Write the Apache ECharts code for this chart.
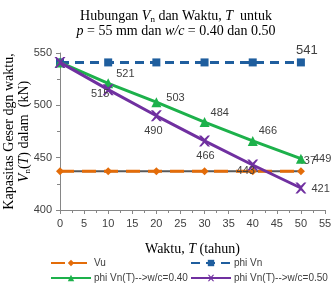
<!DOCTYPE html>
<html>
<head>
<meta charset="utf-8">
<script src="https://cdn.jsdelivr.net/npm/echarts@6/dist/echarts.min.js"></script>
<style>
  html, body { margin: 0; padding: 0; background: #fff; }
  #chart { width: 336px; height: 286px; }
</style>
</head>
<body>
<div id="chart"></div>
<script>
// data
var years = [0, 10, 20, 30, 40, 50];
var vu = [437, 437, 437, 437, 437, 437];
var phiVn = [541, 541, 541, 541, 541, 541];
var vnWc040 = [541, 521, 503, 484, 466, 449];
var vnWc050 = [541, 515, 490, 466, 443, 421];

var serif = 'Liberation Serif';
var sans = 'Liberation Sans';

function pairs (ys) {
  return years.map(function (x, i) { return [x, ys[i]]; });
}

// label placement per point, index -> [position, dx, dy]; null = no label
function withLabels (ys, place) {
  return years.map(function (x, i) {
    var p = place[i];
    var item = { value: [x, ys[i]] };
    if (p) {
      item.label = { show: true, position: p[0], offset: [p[1], p[2]] };
    }
    return item;
  });
}

var labelStyle = { fontFamily: sans, fontSize: 11, color: '#404040', distance: 3 };

var myChart = echarts.init(document.getElementById('chart'));
var option = {
  animation: false,
  graphic: [{
    type: 'text',
    x: 176,
    y: 9,
    style: {
      text: 'Hubungan {i|V}{sub|n} dan Waktu, {i|T}  untuk\n{i|p} = 55 mm dan {i|w/c} = 0.40 dan 0.50',
      font: '14px ' + serif,
      fill: '#000',
      align: 'center',
      lineHeight: 15,
      rich: {
        i: { fontStyle: 'italic', fontFamily: serif, fontSize: 14, lineHeight: 15 },
        sub: { fontFamily: serif, fontSize: 9, verticalAlign: 'bottom', lineHeight: 15 }
      }
    }
  }],
  grid: { left: 60, right: 11, top: 53, bottom: 76, containLabel: false, outerBoundsMode: 'none' },
  xAxis: {
    type: 'value',
    min: 0, max: 55, interval: 5,
    name: 'Waktu, {i|T} (tahun)',
    nameLocation: 'middle',
    nameGap: 32,
    nameMoveOverlap: false,
    nameTextStyle: {
      fontFamily: serif, fontSize: 14, color: '#000',
      rich: { i: { fontStyle: 'italic', fontFamily: serif, fontSize: 14 } }
    },
    axisLine: { lineStyle: { color: '#868686', width: 1 } },
    axisTick: { length: 4, lineStyle: { color: '#868686' } },
    minorTick: { show: true, splitNumber: 2, length: 3, lineStyle: { color: '#868686' } },
    axisLabel: { fontFamily: sans, fontSize: 11, color: '#404040', margin: 8 },
    splitLine: { show: false }
  },
  yAxis: {
    type: 'value',
    min: 400, max: 550, interval: 50,
    name: 'Kapasitas Geser dgn waktu,\n{i|V}{sub|n}({i|T}) dalam  (kN)',
    nameLocation: 'middle',
    nameRotate: 90,
    nameGap: 28,
    nameMoveOverlap: false,
    nameTextStyle: {
      fontFamily: serif, fontSize: 14, color: '#000', lineHeight: 15, align: 'center',
      rich: {
        i: { fontStyle: 'italic', fontFamily: serif, fontSize: 14, lineHeight: 15 },
        sub: { fontFamily: serif, fontSize: 9, verticalAlign: 'bottom', lineHeight: 15 }
      }
    },
    axisLine: { show: true, lineStyle: { color: '#868686', width: 1 } },
    axisTick: { show: true, length: 4, lineStyle: { color: '#868686' } },
    minorTick: { show: true, splitNumber: 2, length: 3, lineStyle: { color: '#868686' } },
    axisLabel: { fontFamily: sans, fontSize: 11, color: '#404040', margin: 8 },
    splitLine: { show: false }
  },
  legend: [
    { data: ['Vu'], left: 50, top: 258 },
    { data: ['phi Vn'], left: 190, top: 258 },
    { data: ['phi Vn(T)-->w/c=0.40'], left: 50, top: 273 },
    { data: ['phi Vn(T)-->w/c=0.50'], left: 190, top: 273 }
  ].map(function (l) {
    l.itemWidth = 40;
    l.itemHeight = 8;
    l.itemGap = 4;
    l.padding = 0;
    l.textStyle = { fontFamily: sans, fontSize: 10, color: '#404040', padding: [0, 0, 0, -2] };
    return l;
  }),
  series: [
    {
      name: 'Vu base',
      type: 'line',
      data: pairs(vu),
      symbol: 'none',
      lineStyle: { color: '#595959', width: 2 },
      silent: true,
      z: 1
    },
    {
      name: 'Vu',
      type: 'line',
      data: withLabels(vu, [null, null, null, null, null, ['top', 6, 2]]),
      symbol: 'diamond',
      symbolSize: 8,
      color: '#E36C09',
      lineStyle: { color: '#E36C09', width: 3, type: [14, 8] },
      label: labelStyle,
      z: 2
    },
    {
      name: 'phi Vn',
      type: 'line',
      data: withLabels(phiVn, [null, null, null, null, null, ['top', 6, 2]]),
      symbol: 'rect',
      symbolSize: 8,
      color: '#1F5E9E',
      lineStyle: { color: '#1F5E9E', width: 3, type: [9, 6] },
      label: { fontFamily: sans, fontSize: 13, color: '#404040', distance: 3 },
      z: 3
    },
    {
      name: 'phi Vn(T)-->w/c=0.40',
      type: 'line',
      data: withLabels(vnWc040, [null, ['right', 0, -9], ['right', 2, -4], ['right', -2, -9], ['right', -2, -10], ['right', 4, 0]]),
      symbol: 'triangle',
      symbolSize: 10,
      color: '#1DB14B',
      lineStyle: { color: '#1DB14B', width: 3 },
      label: labelStyle,
      z: 4
    },
    {
      name: 'phi Vn(T)-->w/c=0.50',
      type: 'line',
      data: withLabels(vnWc050, [null, ['bottom', -8, -10], ['bottom', -3, 1], ['bottom', 1, 1], ['bottom', -7, -8], ['right', 2, 1]]),
      symbol: 'path://M0,0 L2,0 L5,3 L8,0 L10,0 L6,5 L10,10 L8,10 L5,7 L2,10 L0,10 L4,5 Z',
      symbolSize: 11,
      color: '#7030A0',
      lineStyle: { color: '#7030A0', width: 3 },
      label: labelStyle,
      z: 5
    }
  ]
};
myChart.setOption(option);
</script>
</body>
</html>
